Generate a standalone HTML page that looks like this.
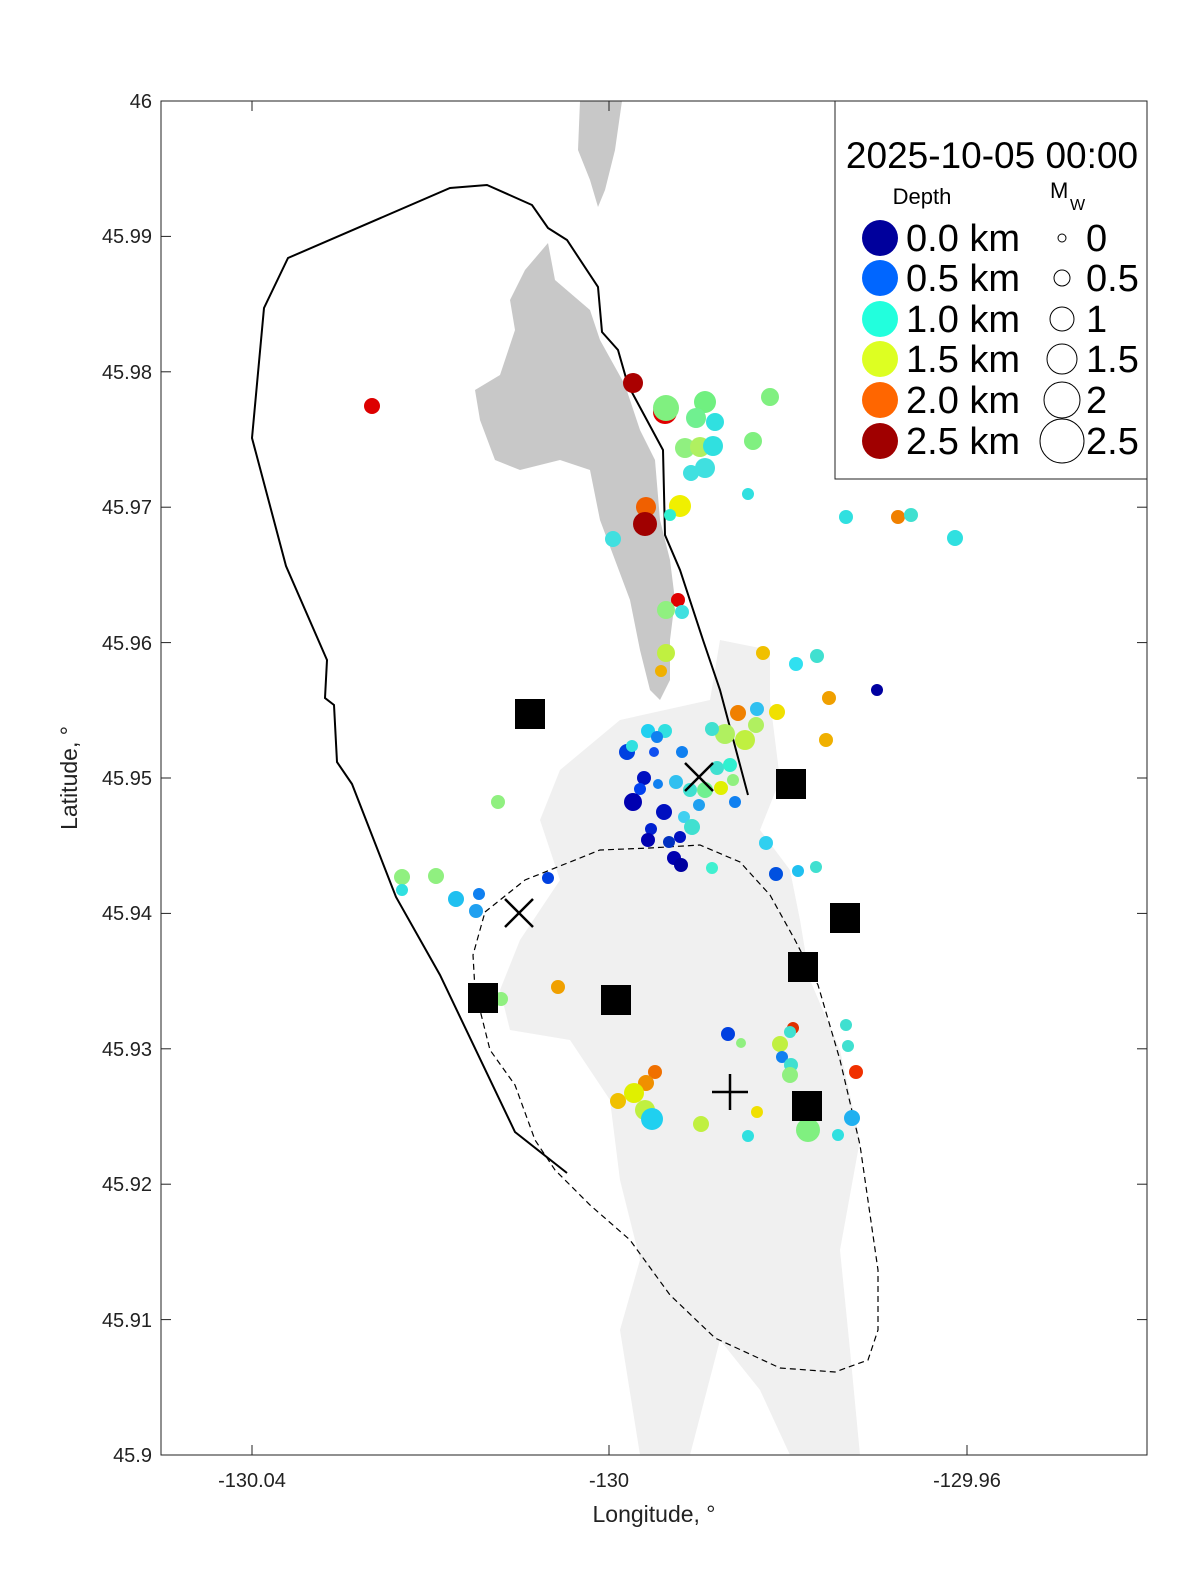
<!DOCTYPE html>
<html><head><meta charset="utf-8"><style>
html,body{margin:0;padding:0;background:#fff;overflow:hidden;width:1200px;height:1575px;}
svg{display:block;font-family:"Liberation Sans",sans-serif;}
</style></head><body>
<svg width="1200" height="1575" viewBox="0 0 1200 1575" xmlns="http://www.w3.org/2000/svg">
<rect width="1200" height="1575" fill="#fff"/>
<defs><clipPath id="c"><rect x="161" y="101" width="986" height="1354"/></clipPath></defs>
<g clip-path="url(#c)">
<polygon fill="#f0f0f0" points="720,640 770,650 770,700 780,780 760,830 790,870 800,920 810,980 840,1050 860,1140 840,1250 850,1350 860,1455 790,1455 760,1390 720,1340 690,1455 640,1455 620,1330 640,1260 620,1180 610,1100 570,1040 510,1030 500,990 520,940 560,880 540,820 560,770 620,720 710,700"/>
<polygon fill="#c8c8c8" points="580,101 622,101 615,150 605,190 598,207 590,180 578,150"/>
<polygon fill="#c8c8c8" points="548,243 555,280 590,310 600,340 625,385 640,430 655,460 660,520 670,560 675,600 670,640 670,680 660,700 650,690 640,650 630,600 615,560 600,520 590,470 560,460 520,470 495,460 480,420 475,390 500,375 515,330 510,300 525,270"/>
<polyline fill="none" stroke="#000" stroke-width="2" points="567,1173 515,1132 440,975 396,897 352,784 337,762 334,705 325,698 327,660 286,566 252,438 264,308 288,258 450,188 487,185 532,205 548,228 567,240 598,287 602,332 618,350 628,385 663,450 665,535 680,570 703,640 720,690 748,795"/>
<polygon fill="none" stroke="#000" stroke-width="1.2" stroke-dasharray="6,4" points="485,912 525,880 600,850 650,848 700,845 740,862 770,895 795,940 818,985 840,1060 860,1145 878,1270 878,1330 868,1360 835,1372 780,1368 715,1338 670,1295 630,1240 590,1205 555,1170 535,1140 515,1085 490,1050 475,990 473,955"/>
<g id="dots">
<circle cx="372" cy="406" r="8" fill="#dd0000"/><circle cx="633" cy="383" r="10" fill="#aa0000"/><circle cx="665" cy="412" r="12" fill="#e00000"/><circle cx="666" cy="408" r="13" fill="#80f080"/><circle cx="705" cy="402" r="11" fill="#70f080"/><circle cx="696" cy="418" r="10" fill="#70f090"/><circle cx="715" cy="422" r="9" fill="#30e0e0"/><circle cx="770" cy="397" r="9" fill="#80f080"/><circle cx="685" cy="448" r="10" fill="#90f080"/><circle cx="700" cy="447" r="10" fill="#b0f060"/><circle cx="713" cy="446" r="10" fill="#30e0e0"/><circle cx="753" cy="441" r="9" fill="#80f080"/><circle cx="705" cy="468" r="10" fill="#40e0e0"/><circle cx="691" cy="473" r="8" fill="#40e0e0"/><circle cx="748" cy="494" r="6" fill="#30e0e0"/><circle cx="680" cy="506" r="11" fill="#f0f000"/><circle cx="646" cy="507" r="10" fill="#f06000"/><circle cx="645" cy="524" r="12" fill="#a00000"/><circle cx="670" cy="515" r="6" fill="#30f0d0"/><circle cx="613" cy="539" r="8" fill="#40e0e0"/><circle cx="846" cy="517" r="7" fill="#30e0e0"/><circle cx="898" cy="517" r="7" fill="#f08000"/><circle cx="911" cy="515" r="7" fill="#40e0d0"/><circle cx="955" cy="538" r="8" fill="#30e0e0"/><circle cx="678" cy="600" r="7" fill="#e00000"/><circle cx="682" cy="612" r="7" fill="#40e0e0"/><circle cx="666" cy="610" r="9" fill="#90f080"/><circle cx="666" cy="653" r="9" fill="#c0f040"/><circle cx="661" cy="671" r="6" fill="#f0b000"/><circle cx="763" cy="653" r="7" fill="#f0c000"/><circle cx="796" cy="664" r="7" fill="#30e0f0"/><circle cx="817" cy="656" r="7" fill="#40e0d0"/><circle cx="877" cy="690" r="6" fill="#0000a0"/><circle cx="829" cy="698" r="7" fill="#f0a000"/><circle cx="826" cy="740" r="7" fill="#f0b000"/><circle cx="738" cy="713" r="8" fill="#f08000"/><circle cx="757" cy="709" r="7" fill="#30c0f0"/><circle cx="777" cy="712" r="8" fill="#f0e000"/><circle cx="725" cy="734" r="10" fill="#b0f060"/><circle cx="745" cy="740" r="10" fill="#c0f040"/><circle cx="756" cy="725" r="8" fill="#b0f060"/><circle cx="712" cy="729" r="7" fill="#40e0d0"/><circle cx="648" cy="731" r="7" fill="#20d0f0"/><circle cx="665" cy="731" r="7" fill="#30e0e0"/><circle cx="657" cy="737" r="6" fill="#1080f0"/><circle cx="682" cy="752" r="6" fill="#1080f0"/><circle cx="627" cy="752" r="8" fill="#0040e0"/><circle cx="632" cy="746" r="6" fill="#30e0e0"/><circle cx="654" cy="752" r="5" fill="#1050f0"/><circle cx="644" cy="778" r="7" fill="#0010c0"/><circle cx="640" cy="789" r="6" fill="#0040f0"/><circle cx="633" cy="802" r="9" fill="#0000b0"/><circle cx="664" cy="812" r="8" fill="#0010c0"/><circle cx="658" cy="784" r="5" fill="#1080f0"/><circle cx="676" cy="782" r="7" fill="#30c0f0"/><circle cx="690" cy="790" r="7" fill="#40e0d0"/><circle cx="705" cy="790" r="8" fill="#70f090"/><circle cx="717" cy="768" r="7" fill="#40e0d0"/><circle cx="730" cy="765" r="7" fill="#30f0d0"/><circle cx="733" cy="780" r="6" fill="#90f080"/><circle cx="721" cy="788" r="7" fill="#e0f000"/><circle cx="735" cy="802" r="6" fill="#1080f0"/><circle cx="699" cy="805" r="6" fill="#20a0f0"/><circle cx="684" cy="817" r="6" fill="#40d0f0"/><circle cx="692" cy="827" r="8" fill="#40e0d0"/><circle cx="651" cy="829" r="6" fill="#0020d0"/><circle cx="648" cy="840" r="7" fill="#0000b0"/><circle cx="669" cy="842" r="6" fill="#0030c0"/><circle cx="680" cy="837" r="6" fill="#0010c0"/><circle cx="674" cy="858" r="7" fill="#0000b0"/><circle cx="681" cy="865" r="7" fill="#0000a0"/><circle cx="712" cy="868" r="6" fill="#40f0d0"/><circle cx="766" cy="843" r="7" fill="#30d0f0"/><circle cx="776" cy="874" r="7" fill="#0050e0"/><circle cx="798" cy="871" r="6" fill="#20c0f0"/><circle cx="816" cy="867" r="6" fill="#40e0d0"/><circle cx="548" cy="878" r="6" fill="#0040e0"/><circle cx="498" cy="802" r="7" fill="#90f080"/><circle cx="402" cy="877" r="8" fill="#90f080"/><circle cx="402" cy="890" r="6" fill="#30e0e0"/><circle cx="436" cy="876" r="8" fill="#90f080"/><circle cx="456" cy="899" r="8" fill="#20c0f0"/><circle cx="479" cy="894" r="6" fill="#1080f0"/><circle cx="476" cy="911" r="7" fill="#20a0f0"/><circle cx="558" cy="987" r="7" fill="#f0a000"/><circle cx="501" cy="999" r="7" fill="#90f080"/><circle cx="728" cy="1034" r="7" fill="#0040e0"/><circle cx="741" cy="1043" r="5" fill="#90f080"/><circle cx="793" cy="1028" r="6" fill="#e03000"/><circle cx="790" cy="1032" r="6" fill="#40e0d0"/><circle cx="780" cy="1044" r="8" fill="#c0f040"/><circle cx="782" cy="1057" r="6" fill="#1080f0"/><circle cx="791" cy="1065" r="7" fill="#40e0d0"/><circle cx="790" cy="1075" r="8" fill="#90f080"/><circle cx="846" cy="1025" r="6" fill="#40e0d0"/><circle cx="848" cy="1046" r="6" fill="#40e0d0"/><circle cx="856" cy="1072" r="7" fill="#f03000"/><circle cx="655" cy="1072" r="7" fill="#f07000"/><circle cx="646" cy="1083" r="8" fill="#f09000"/><circle cx="634" cy="1093" r="10" fill="#e0f000"/><circle cx="618" cy="1101" r="8" fill="#f0c000"/><circle cx="645" cy="1110" r="10" fill="#c0f040"/><circle cx="652" cy="1119" r="11" fill="#20d0f0"/><circle cx="701" cy="1124" r="8" fill="#c0f040"/><circle cx="757" cy="1112" r="6" fill="#f0e000"/><circle cx="808" cy="1130" r="12" fill="#80f080"/><circle cx="852" cy="1118" r="8" fill="#20b0f0"/><circle cx="838" cy="1135" r="6" fill="#30e0e0"/><circle cx="748" cy="1136" r="6" fill="#30e0e0"/>
</g>
<g fill="#000">
<rect x="515" y="699" width="30" height="30"/><rect x="776" y="769" width="30" height="30"/><rect x="830" y="903" width="30" height="30"/><rect x="788" y="952" width="30" height="30"/><rect x="468" y="983" width="30" height="30"/><rect x="601" y="985" width="30" height="30"/><rect x="792" y="1091" width="30" height="30"/>
</g>
<g stroke="#000" stroke-width="2.5">
<line x1="685" y1="763" x2="713" y2="791"/><line x1="713" y1="763" x2="685" y2="791"/>
<line x1="505" y1="899" x2="533" y2="927"/><line x1="533" y1="899" x2="505" y2="927"/>
<line x1="712" y1="1092" x2="748" y2="1092"/><line x1="730" y1="1074" x2="730" y2="1110"/>
</g>
</g>
<rect x="161" y="101" width="986" height="1354" fill="none" stroke="#222" stroke-width="1"/>
<g stroke="#222" stroke-width="1">
<line x1="252" y1="1455" x2="252" y2="1445"/><line x1="609" y1="1455" x2="609" y2="1445"/><line x1="967" y1="1455" x2="967" y2="1445"/>
<line x1="252" y1="101" x2="252" y2="111"/><line x1="609" y1="101" x2="609" y2="111"/><line x1="967" y1="101" x2="967" y2="111"/>
<line x1="161" y1="236.4" x2="171" y2="236.4"/><line x1="161" y1="371.8" x2="171" y2="371.8"/><line x1="161" y1="507.2" x2="171" y2="507.2"/><line x1="161" y1="642.6" x2="171" y2="642.6"/><line x1="161" y1="778" x2="171" y2="778"/><line x1="161" y1="913.4" x2="171" y2="913.4"/><line x1="161" y1="1048.8" x2="171" y2="1048.8"/><line x1="161" y1="1184.2" x2="171" y2="1184.2"/><line x1="161" y1="1319.6" x2="171" y2="1319.6"/>
<line x1="1147" y1="236.4" x2="1137" y2="236.4"/><line x1="1147" y1="371.8" x2="1137" y2="371.8"/><line x1="1147" y1="507.2" x2="1137" y2="507.2"/><line x1="1147" y1="642.6" x2="1137" y2="642.6"/><line x1="1147" y1="778" x2="1137" y2="778"/><line x1="1147" y1="913.4" x2="1137" y2="913.4"/><line x1="1147" y1="1048.8" x2="1137" y2="1048.8"/><line x1="1147" y1="1184.2" x2="1137" y2="1184.2"/><line x1="1147" y1="1319.6" x2="1137" y2="1319.6"/>
</g>
<g font-size="20" fill="#222" text-anchor="end">
<text x="152" y="108">46</text><text x="152" y="243">45.99</text><text x="152" y="379">45.98</text><text x="152" y="514">45.97</text><text x="152" y="650">45.96</text><text x="152" y="785">45.95</text><text x="152" y="920">45.94</text><text x="152" y="1056">45.93</text><text x="152" y="1191">45.92</text><text x="152" y="1327">45.91</text><text x="152" y="1462">45.9</text>
</g>
<g font-size="20" fill="#222" text-anchor="middle">
<text x="252" y="1487">-130.04</text><text x="609" y="1487">-130</text><text x="967" y="1487">-129.96</text>
<text x="654" y="1522" font-size="23">Longitude, °</text>
</g>
<text transform="translate(77,778) rotate(-90)" font-size="23" fill="#222" text-anchor="middle">Latitude, °</text>
<rect x="835" y="101" width="312" height="378" fill="#fff" stroke="#222" stroke-width="1"/>
<text x="992" y="168" font-size="37" text-anchor="middle" fill="#000">2025-10-05 00:00</text>
<text x="922" y="204" font-size="22" text-anchor="middle">Depth</text>
<text x="1050" y="198" font-size="22">M</text><text x="1070" y="210" font-size="16">W</text>
<g>
<circle cx="880" cy="238" r="18" fill="#00009c"/><circle cx="880" cy="278" r="18" fill="#0066ff"/><circle cx="880" cy="319" r="18" fill="#22ffdd"/><circle cx="880" cy="359" r="18" fill="#ddff22"/><circle cx="880" cy="400" r="18" fill="#ff6600"/><circle cx="880" cy="441" r="18" fill="#a00000"/>
</g>
<g font-size="38" fill="#000">
<text x="906" y="251">0.0 km</text><text x="906" y="291">0.5 km</text><text x="906" y="332">1.0 km</text><text x="906" y="372">1.5 km</text><text x="906" y="413">2.0 km</text><text x="906" y="454">2.5 km</text>
<text x="1086" y="251">0</text><text x="1086" y="291">0.5</text><text x="1086" y="332">1</text><text x="1086" y="372">1.5</text><text x="1086" y="413">2</text><text x="1086" y="454">2.5</text>
</g>
<g fill="none" stroke="#000" stroke-width="1">
<circle cx="1062" cy="238" r="4"/><circle cx="1062" cy="278" r="8"/><circle cx="1062" cy="319" r="12"/><circle cx="1062" cy="359" r="15"/><circle cx="1062" cy="400" r="18"/><circle cx="1062" cy="441" r="22"/>
</g>
</svg>
</body></html>
